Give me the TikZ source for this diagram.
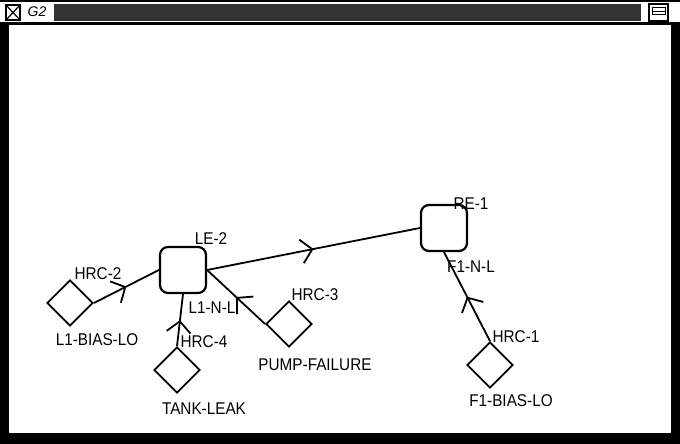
\documentclass[tikz,border=0pt]{standalone}
\usepackage{fontspec}
\setmainfont{Liberation Sans}
\newfontfamily\labelfont[FakeStretch=0.9]{Liberation Sans}
\usetikzlibrary{shapes.geometric,arrows.meta,decorations.markings,positioning}

\tikzset{
  goal/.style={draw,line width=2.2pt,rounded corners=8pt,minimum size=46pt,inner sep=0pt},
  fault/.style={draw,diamond,line width=1.8pt,minimum width=46pt,minimum height=46pt,inner sep=0pt},
  tag/.style={font=\labelfont\fontsize{17}{17}\selectfont,inner sep=0pt},
  link/.style={line width=1.8pt,postaction={decorate},
    decoration={markings,mark=at position 0.5 with {\arrow[line width=1.8pt]{Straight Barb[length=11pt,width=24pt]}}}},
}

\begin{document}
\begin{tikzpicture}[x=1pt,y=-1pt]
    \useasboundingbox (0,0) rectangle (680,444);
    \fill[white] (0,0) rectangle (680,444);
    % window frame
    \draw[line width=1.5pt] (0,1) -- (680,1);
    \fill[black] (0,22) rectangle (680,25);
    \fill[black] (0,25) rectangle (9,444);
    \fill[black] (671,25) rectangle (680,444);
    \fill[black] (0,433) rectangle (680,444);
    \draw[line width=1.2pt] (6,5) rectangle (20,20);
    \draw[line width=1.2pt] (6,5) -- (20,20) (6,20) -- (20,5);
    \node[font=\itshape\fontsize{14}{14}\selectfont,inner sep=0pt] (title) at (37,12) {G2};
    \fill[black!80] (54,4) rectangle (641,21);
    \draw[line width=1.2pt] (649,4) rectangle (668,21);
    \draw[line width=1pt] (652,8) -- (665,8) -- (665,15) -- (652,15) -- cycle (652,11.5) -- (665,11.5);
    % nodes
    \node[goal] (le2) at (183,270) {};
    \node[goal] (re1) at (444,228) {};
    \node[fault] (l1bias) at (70,303) {};
    \node[fault] (tank) at (177,370) {};
    \node[fault] (pump) at (289,324) {};
    \node[fault] (f1bias) at (490,365) {};
    % labels
    \node[tag] (le2lbl) at (211,239) {LE-2};
    \node[tag] (re1lbl) at (471,204) {RE-1};
    \node[tag] (hrc2) at (98,274) {HRC-2};
    \node[tag] (l1biaslbl) at (97,340) {L1-BIAS-LO};
    \node[tag] (l1nl) at (212,308) {L1-N-L};
    \node[tag] (hrc4) at (204,342) {HRC-4};
    \node[tag] (tanklbl) at (204,409) {TANK-LEAK};
    \node[tag] (hrc3) at (315,295) {HRC-3};
    \node[tag] (pumplbl) at (315,365) {PUMP-FAILURE};
    \node[tag] (f1nl) at (471,267) {F1-N-L};
    \node[tag] (hrc1) at (516,337) {HRC-1};
    \node[tag] (f1biaslbl) at (511,401) {F1-BIAS-LO};
    % links
    \draw[link] (l1bias.east) -- (le2.west);
    \draw[link] (tank.north) -- (le2.south);
    \draw[link] (pump.west) -- (le2.east);
    \draw[link] (le2.east) -- (re1.west);
    \draw[link] (f1bias.north) -- (re1.south);
\end{tikzpicture}
\end{document}
